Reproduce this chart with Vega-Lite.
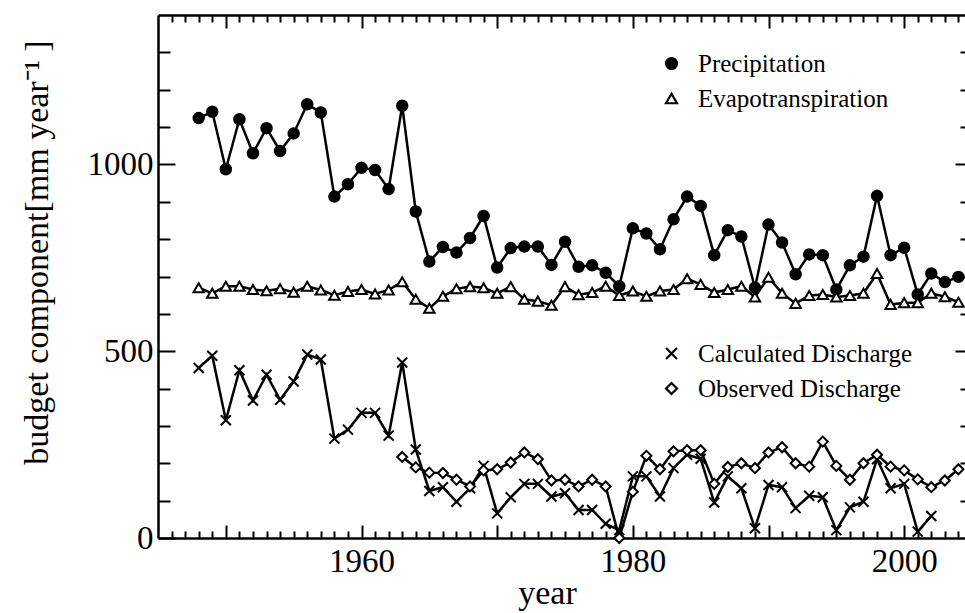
{
"$schema":"https://vega.github.io/schema/vega-lite/v6.json",
"width":814,"height":523,
"autosize":{"type":"none"},
"padding":{"left":158,"top":15,"right":-7,"bottom":75},
"background":"white",
"config":{
 "view":{"stroke":null},
 "axis":{"domainColor":"black","domainWidth":2.5,"tickColor":"black","tickWidth":2,"labelFont":"Liberation Serif","labelFontSize":33,"labelColor":"black","titleFont":"Liberation Serif","titleFontSize":34,"titleFontWeight":"normal","titleColor":"black","grid":false,"labelOverlap":false,"labelFlush":false,"labelBound":false},
 "legend":{"labelFont":"Liberation Serif","labelFontSize":25,"labelColor":"black","labelLimit":0,"orient":"none","padding":0,"rowPadding":9,"labelOffset":14,"symbolSize":120,"symbolStrokeWidth":2.2}
},
"data":{"values":[
{"year":1948,"series":"Precipitation","value":1124},{"year":1949,"series":"Precipitation","value":1141},{"year":1950,"series":"Precipitation","value":987},{"year":1951,"series":"Precipitation","value":1121},{"year":1952,"series":"Precipitation","value":1030},{"year":1953,"series":"Precipitation","value":1097},{"year":1954,"series":"Precipitation","value":1036},{"year":1955,"series":"Precipitation","value":1083},{"year":1956,"series":"Precipitation","value":1161},{"year":1957,"series":"Precipitation","value":1139},{"year":1958,"series":"Precipitation","value":914},{"year":1959,"series":"Precipitation","value":947},{"year":1960,"series":"Precipitation","value":991},{"year":1961,"series":"Precipitation","value":985},{"year":1962,"series":"Precipitation","value":934},{"year":1963,"series":"Precipitation","value":1157},{"year":1964,"series":"Precipitation","value":874},{"year":1965,"series":"Precipitation","value":740},{"year":1966,"series":"Precipitation","value":779},{"year":1967,"series":"Precipitation","value":764},{"year":1968,"series":"Precipitation","value":803},{"year":1969,"series":"Precipitation","value":862},{"year":1970,"series":"Precipitation","value":724},{"year":1971,"series":"Precipitation","value":776},{"year":1972,"series":"Precipitation","value":780},{"year":1973,"series":"Precipitation","value":780},{"year":1974,"series":"Precipitation","value":731},{"year":1975,"series":"Precipitation","value":793},{"year":1976,"series":"Precipitation","value":726},{"year":1977,"series":"Precipitation","value":730},{"year":1978,"series":"Precipitation","value":710},{"year":1979,"series":"Precipitation","value":674},{"year":1980,"series":"Precipitation","value":829},{"year":1981,"series":"Precipitation","value":815},{"year":1982,"series":"Precipitation","value":773},{"year":1983,"series":"Precipitation","value":853},{"year":1984,"series":"Precipitation","value":914},{"year":1985,"series":"Precipitation","value":889},{"year":1986,"series":"Precipitation","value":757},{"year":1987,"series":"Precipitation","value":824},{"year":1988,"series":"Precipitation","value":807},{"year":1989,"series":"Precipitation","value":670},{"year":1990,"series":"Precipitation","value":839},{"year":1991,"series":"Precipitation","value":791},{"year":1992,"series":"Precipitation","value":706},{"year":1993,"series":"Precipitation","value":759},{"year":1994,"series":"Precipitation","value":757},{"year":1995,"series":"Precipitation","value":665},{"year":1996,"series":"Precipitation","value":730},{"year":1997,"series":"Precipitation","value":753},{"year":1998,"series":"Precipitation","value":916},{"year":1999,"series":"Precipitation","value":757},{"year":2000,"series":"Precipitation","value":777},{"year":2001,"series":"Precipitation","value":652},{"year":2002,"series":"Precipitation","value":708},{"year":2003,"series":"Precipitation","value":685},{"year":2004,"series":"Precipitation","value":699},
{"year":1948,"series":"Evapotranspiration","value":670},{"year":1949,"series":"Evapotranspiration","value":655},{"year":1950,"series":"Evapotranspiration","value":674},{"year":1951,"series":"Evapotranspiration","value":674},{"year":1952,"series":"Evapotranspiration","value":665},{"year":1953,"series":"Evapotranspiration","value":662},{"year":1954,"series":"Evapotranspiration","value":667},{"year":1955,"series":"Evapotranspiration","value":658},{"year":1956,"series":"Evapotranspiration","value":674},{"year":1957,"series":"Evapotranspiration","value":664},{"year":1958,"series":"Evapotranspiration","value":650},{"year":1959,"series":"Evapotranspiration","value":660},{"year":1960,"series":"Evapotranspiration","value":665},{"year":1961,"series":"Evapotranspiration","value":653},{"year":1962,"series":"Evapotranspiration","value":664},{"year":1963,"series":"Evapotranspiration","value":686},{"year":1964,"series":"Evapotranspiration","value":639},{"year":1965,"series":"Evapotranspiration","value":615},{"year":1966,"series":"Evapotranspiration","value":647},{"year":1967,"series":"Evapotranspiration","value":667},{"year":1968,"series":"Evapotranspiration","value":673},{"year":1969,"series":"Evapotranspiration","value":670},{"year":1970,"series":"Evapotranspiration","value":655},{"year":1971,"series":"Evapotranspiration","value":673},{"year":1972,"series":"Evapotranspiration","value":639},{"year":1973,"series":"Evapotranspiration","value":634},{"year":1974,"series":"Evapotranspiration","value":623},{"year":1975,"series":"Evapotranspiration","value":673},{"year":1976,"series":"Evapotranspiration","value":651},{"year":1977,"series":"Evapotranspiration","value":657},{"year":1978,"series":"Evapotranspiration","value":674},{"year":1979,"series":"Evapotranspiration","value":649},{"year":1980,"series":"Evapotranspiration","value":661},{"year":1981,"series":"Evapotranspiration","value":647},{"year":1982,"series":"Evapotranspiration","value":661},{"year":1983,"series":"Evapotranspiration","value":665},{"year":1984,"series":"Evapotranspiration","value":694},{"year":1985,"series":"Evapotranspiration","value":679},{"year":1986,"series":"Evapotranspiration","value":657},{"year":1987,"series":"Evapotranspiration","value":665},{"year":1988,"series":"Evapotranspiration","value":674},{"year":1989,"series":"Evapotranspiration","value":645},{"year":1990,"series":"Evapotranspiration","value":698},{"year":1991,"series":"Evapotranspiration","value":655},{"year":1992,"series":"Evapotranspiration","value":628},{"year":1993,"series":"Evapotranspiration","value":649},{"year":1994,"series":"Evapotranspiration","value":652},{"year":1995,"series":"Evapotranspiration","value":645},{"year":1996,"series":"Evapotranspiration","value":649},{"year":1997,"series":"Evapotranspiration","value":655},{"year":1998,"series":"Evapotranspiration","value":708},{"year":1999,"series":"Evapotranspiration","value":625},{"year":2000,"series":"Evapotranspiration","value":630},{"year":2001,"series":"Evapotranspiration","value":630},{"year":2002,"series":"Evapotranspiration","value":655},{"year":2003,"series":"Evapotranspiration","value":646},{"year":2004,"series":"Evapotranspiration","value":631},
{"year":1948,"series":"Calculated Discharge","value":455},{"year":1949,"series":"Calculated Discharge","value":488},{"year":1950,"series":"Calculated Discharge","value":315},{"year":1951,"series":"Calculated Discharge","value":449},{"year":1952,"series":"Calculated Discharge","value":368},{"year":1953,"series":"Calculated Discharge","value":437},{"year":1954,"series":"Calculated Discharge","value":370},{"year":1955,"series":"Calculated Discharge","value":419},{"year":1956,"series":"Calculated Discharge","value":491},{"year":1957,"series":"Calculated Discharge","value":478},{"year":1958,"series":"Calculated Discharge","value":266},{"year":1959,"series":"Calculated Discharge","value":290},{"year":1960,"series":"Calculated Discharge","value":335},{"year":1961,"series":"Calculated Discharge","value":335},{"year":1962,"series":"Calculated Discharge","value":274},{"year":1963,"series":"Calculated Discharge","value":470},{"year":1964,"series":"Calculated Discharge","value":237},{"year":1965,"series":"Calculated Discharge","value":126},{"year":1966,"series":"Calculated Discharge","value":136},{"year":1967,"series":"Calculated Discharge","value":97},{"year":1968,"series":"Calculated Discharge","value":133},{"year":1969,"series":"Calculated Discharge","value":193},{"year":1970,"series":"Calculated Discharge","value":66},{"year":1971,"series":"Calculated Discharge","value":109},{"year":1972,"series":"Calculated Discharge","value":145},{"year":1973,"series":"Calculated Discharge","value":145},{"year":1974,"series":"Calculated Discharge","value":111},{"year":1975,"series":"Calculated Discharge","value":120},{"year":1976,"series":"Calculated Discharge","value":75},{"year":1977,"series":"Calculated Discharge","value":75},{"year":1978,"series":"Calculated Discharge","value":38},{"year":1979,"series":"Calculated Discharge","value":21},{"year":1980,"series":"Calculated Discharge","value":165},{"year":1981,"series":"Calculated Discharge","value":165},{"year":1982,"series":"Calculated Discharge","value":111},{"year":1983,"series":"Calculated Discharge","value":187},{"year":1984,"series":"Calculated Discharge","value":223},{"year":1985,"series":"Calculated Discharge","value":212},{"year":1986,"series":"Calculated Discharge","value":95},{"year":1987,"series":"Calculated Discharge","value":165},{"year":1988,"series":"Calculated Discharge","value":133},{"year":1989,"series":"Calculated Discharge","value":26},{"year":1990,"series":"Calculated Discharge","value":142},{"year":1991,"series":"Calculated Discharge","value":136},{"year":1992,"series":"Calculated Discharge","value":80},{"year":1993,"series":"Calculated Discharge","value":113},{"year":1994,"series":"Calculated Discharge","value":109},{"year":1995,"series":"Calculated Discharge","value":21},{"year":1996,"series":"Calculated Discharge","value":82},{"year":1997,"series":"Calculated Discharge","value":97},{"year":1998,"series":"Calculated Discharge","value":211},{"year":1999,"series":"Calculated Discharge","value":133},{"year":2000,"series":"Calculated Discharge","value":145},{"year":2001,"series":"Calculated Discharge","value":17},{"year":2002,"series":"Calculated Discharge","value":59},
{"year":1963,"series":"Observed Discharge","value":217},{"year":1964,"series":"Observed Discharge","value":189},{"year":1965,"series":"Observed Discharge","value":175},{"year":1966,"series":"Observed Discharge","value":174},{"year":1967,"series":"Observed Discharge","value":156},{"year":1968,"series":"Observed Discharge","value":138},{"year":1969,"series":"Observed Discharge","value":181},{"year":1970,"series":"Observed Discharge","value":184},{"year":1971,"series":"Observed Discharge","value":202},{"year":1972,"series":"Observed Discharge","value":229},{"year":1973,"series":"Observed Discharge","value":211},{"year":1974,"series":"Observed Discharge","value":154},{"year":1975,"series":"Observed Discharge","value":156},{"year":1976,"series":"Observed Discharge","value":138},{"year":1977,"series":"Observed Discharge","value":156},{"year":1978,"series":"Observed Discharge","value":138},{"year":1979,"series":"Observed Discharge","value":0},{"year":1980,"series":"Observed Discharge","value":124},{"year":1981,"series":"Observed Discharge","value":220},{"year":1982,"series":"Observed Discharge","value":184},{"year":1983,"series":"Observed Discharge","value":232},{"year":1984,"series":"Observed Discharge","value":235},{"year":1985,"series":"Observed Discharge","value":235},{"year":1986,"series":"Observed Discharge","value":145},{"year":1987,"series":"Observed Discharge","value":190},{"year":1988,"series":"Observed Discharge","value":200},{"year":1989,"series":"Observed Discharge","value":187},{"year":1990,"series":"Observed Discharge","value":229},{"year":1991,"series":"Observed Discharge","value":243},{"year":1992,"series":"Observed Discharge","value":200},{"year":1993,"series":"Observed Discharge","value":191},{"year":1994,"series":"Observed Discharge","value":258},{"year":1995,"series":"Observed Discharge","value":193},{"year":1996,"series":"Observed Discharge","value":156},{"year":1997,"series":"Observed Discharge","value":200},{"year":1998,"series":"Observed Discharge","value":223},{"year":1999,"series":"Observed Discharge","value":191},{"year":2000,"series":"Observed Discharge","value":181},{"year":2001,"series":"Observed Discharge","value":157},{"year":2002,"series":"Observed Discharge","value":136},{"year":2003,"series":"Observed Discharge","value":154},{"year":2004,"series":"Observed Discharge","value":184}
]},
"layer":[
 {"transform":[{"filter":{"field":"series","oneOf":["Precipitation","Evapotranspiration"]}}],
  "mark":{"type":"line","stroke":"black","strokeWidth":2.5},
  "encoding":{
   "x":{"field":"year","type":"quantitative","scale":{"domain":[1945,2005],"nice":false,"zero":false},"axis":{"orient":"bottom","values":[1950,1960,1970,1980,1990,2000],"tickSize":-13,"labelPadding":20,"format":"d","labelExpr":"datum.value % 20 === 0 ? datum.label : ''","title":"year","titleX":389,"titleY":65,"titleBaseline":"alphabetic","titleAlign":"center"}},
   "y":{"field":"value","type":"quantitative","scale":{"domain":[0,1400],"nice":false},"axis":{"orient":"left","values":[0,500,1000],"tickSize":-17,"labelPadding":22,"format":"d","title":"budget component[mm year⁻¹ ]","titleX":-121,"titleY":237,"titleAngle":-90,"titleBaseline":"middle","titleAlign":"center"}},
   "detail":{"field":"series"}
  }},
 {"transform":[{"filter":{"field":"series","oneOf":["Calculated Discharge","Observed Discharge"]}}],
  "mark":{"type":"line","stroke":"black","strokeWidth":2.5},
  "encoding":{
   "x":{"field":"year","type":"quantitative","scale":{"domain":[1945,2005],"nice":false,"zero":false},"axis":{"orient":"bottom","values":[1946,1947,1948,1949,1951,1952,1953,1954,1955,1956,1957,1958,1959,1961,1962,1963,1964,1965,1966,1967,1968,1969,1971,1972,1973,1974,1975,1976,1977,1978,1979,1981,1982,1983,1984,1985,1986,1987,1988,1989,1991,1992,1993,1994,1995,1996,1997,1998,1999,2001,2002,2003,2004],"tickSize":-7,"labels":false,"domain":false,"title":null}},
   "y":{"field":"value","type":"quantitative","scale":{"domain":[0,1400],"nice":false},"axis":{"orient":"left","values":[100,200,300,400,600,700,800,900,1100,1200,1300],"tickSize":-12,"labels":false,"domain":false,"title":null}},
   "detail":{"field":"series"}
  }},
 {"transform":[{"filter":{"field":"series","oneOf":["Precipitation","Evapotranspiration"]}}],
  "mark":{"type":"point","filled":false,"stroke":"black","strokeWidth":2,"size":110,"opacity":1},
  "encoding":{
   "x":{"field":"year","type":"quantitative","scale":{"domain":[1945,2005],"nice":false,"zero":false},"axis":{"orient":"top","values":[1950,1960,1970,1980,1990,2000],"tickSize":-13,"labels":false,"domain":true,"title":null}},
   "y":{"field":"value","type":"quantitative","scale":{"domain":[0,1400],"nice":false},"axis":{"orient":"right","values":[500,1000],"tickSize":-17,"labels":false,"domain":false,"title":null}},
   "shape":{"field":"series","type":"nominal","scale":{"domain":["Precipitation","Evapotranspiration"],"range":["circle","triangle-up"]},"legend":{"legendX":501,"legendY":36,"title":null,"symbolStrokeWidth":2.2}},
   "fill":{"field":"series","type":"nominal","scale":{"domain":["Precipitation","Evapotranspiration"],"range":["black","white"]},"legend":{"legendX":501,"legendY":36,"title":null,"symbolStrokeWidth":2.2}}
  }},
 {"transform":[{"filter":{"field":"series","oneOf":["Calculated Discharge","Observed Discharge"]}}],
  "mark":{"type":"point","filled":false,"stroke":"black","strokeWidth":2,"size":100,"opacity":1},
  "encoding":{
   "x":{"field":"year","type":"quantitative","scale":{"domain":[1945,2005],"nice":false,"zero":false},"axis":{"orient":"top","values":[1946,1947,1948,1949,1951,1952,1953,1954,1955,1956,1957,1958,1959,1961,1962,1963,1964,1965,1966,1967,1968,1969,1971,1972,1973,1974,1975,1976,1977,1978,1979,1981,1982,1983,1984,1985,1986,1987,1988,1989,1991,1992,1993,1994,1995,1996,1997,1998,1999,2001,2002,2003,2004],"tickSize":-7,"labels":false,"domain":false,"title":null}},
   "y":{"field":"value","type":"quantitative","scale":{"domain":[0,1400],"nice":false},"axis":{"orient":"right","values":[100,200,300,400,600,700,800,900,1100,1200,1300],"tickSize":-12,"labels":false,"domain":false,"title":null}},
   "fill":{"value":"white"},
   "shape":{"field":"series","type":"nominal","scale":{"domain":["Calculated Discharge","Observed Discharge"],"range":["M-1,-1L1,1M-1,1L1,-1","diamond"]},"legend":{"legendX":501,"legendY":326,"title":null,"symbolStrokeWidth":2.2}}
  }}
],
"resolve":{"axis":{"x":"independent","y":"independent"},"scale":{"shape":"independent","fill":"independent"}}
}
